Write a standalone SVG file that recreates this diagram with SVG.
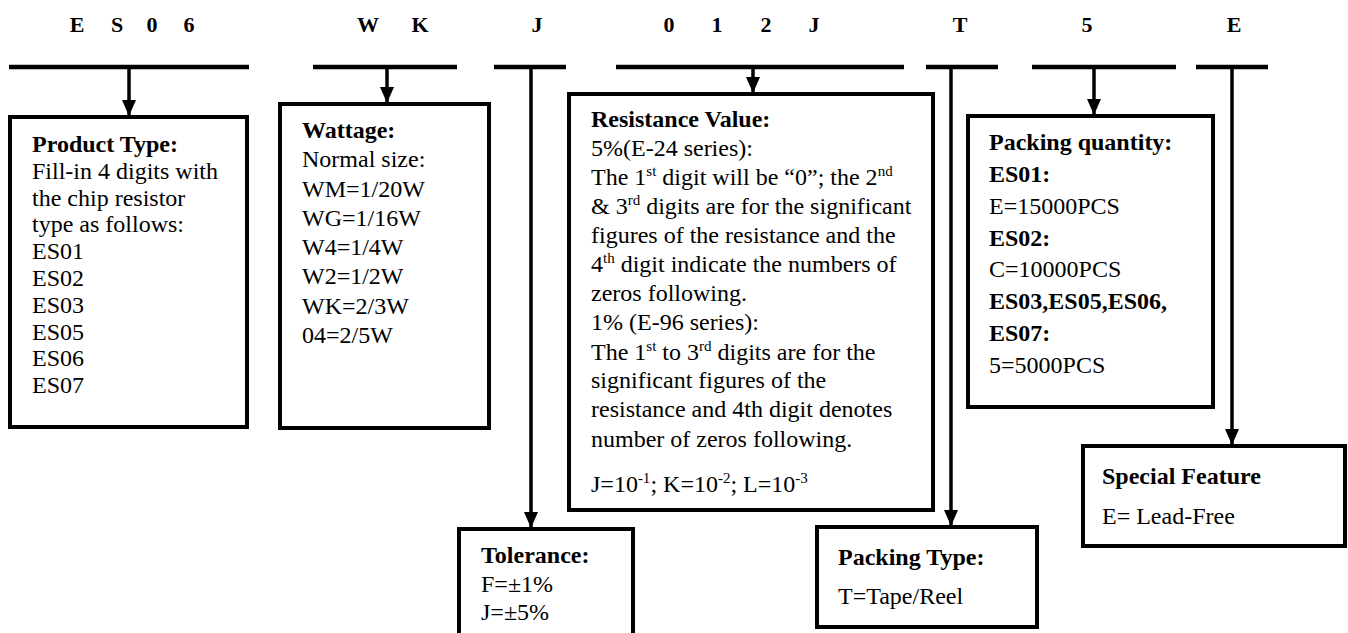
<svg xmlns="http://www.w3.org/2000/svg" width="1348" height="633" viewBox="0 0 1348 633">
<defs>
<marker id="ah" viewBox="0 0 16 14" markerWidth="16" markerHeight="14" refX="16" refY="7" orient="auto" markerUnits="userSpaceOnUse">
<path d="M0,0 L16,7 L0,14 z" fill="#000"/>
</marker>
<style>
.t{font-family:"Liberation Serif","Times New Roman",serif;font-size:24px;fill:#000}
.b{font-weight:bold}
.hd{font-family:"Liberation Serif","Times New Roman",serif;font-size:22px;font-weight:bold;fill:#000;text-anchor:middle}
.box{fill:#fff;stroke:#000;stroke-width:4}
.bar{stroke:#000;stroke-width:4.5;fill:none}
.con{stroke:#000;stroke-width:3.5;fill:none;marker-end:url(#ah)}
.sup{font-size:15px}
</style>
</defs>
<rect width="1348" height="633" fill="#fff"/>
<g id="code">
<text class="hd" x="77" y="32">E</text><text class="hd" x="117" y="32">S</text><text class="hd" x="152" y="32">0</text><text class="hd" x="189" y="32">6</text>
<text class="hd" x="368" y="32">W</text><text class="hd" x="420" y="32">K</text>
<text class="hd" x="537" y="32">J</text>
<text class="hd" x="669" y="32">0</text><text class="hd" x="717" y="32">1</text><text class="hd" x="766" y="32">2</text><text class="hd" x="814" y="32">J</text>
<text class="hd" x="960" y="32">T</text>
<text class="hd" x="1087" y="32">5</text>
<text class="hd" x="1234" y="32">E</text>
</g>
<g id="connectors">
<line class="bar" x1="9" y1="67" x2="249" y2="67"/>
<line class="bar" x1="313" y1="67" x2="457" y2="67"/>
<line class="bar" x1="494" y1="67" x2="566" y2="67"/>
<line class="bar" x1="616" y1="67" x2="904" y2="67"/>
<line class="bar" x1="926" y1="67" x2="998" y2="67"/>
<line class="bar" x1="1032" y1="67" x2="1176" y2="67"/>
<line class="bar" x1="1196" y1="67" x2="1268" y2="67"/>
<line class="con" x1="129" y1="67" x2="129" y2="116"/>
<line class="con" x1="387" y1="67" x2="387" y2="103"/>
<line class="con" x1="531" y1="67" x2="531" y2="528"/>
<line class="con" x1="753" y1="67" x2="753" y2="93"/>
<line class="con" x1="951" y1="67" x2="951" y2="526"/>
<line class="con" x1="1094" y1="67" x2="1094" y2="115"/>
<line class="con" x1="1232" y1="67" x2="1232" y2="445"/>
</g>
<g id="product-type">
<rect class="box" x="10" y="117" width="237" height="310"/>
<text class="t" x="32" y="152"><tspan class="b">Product Type:</tspan>
<tspan x="32" y="179">Fill-in 4 digits with</tspan>
<tspan x="32" y="206">the chip resistor</tspan>
<tspan x="32" y="232">type as follows:</tspan>
<tspan x="32" y="259">ES01</tspan>
<tspan x="32" y="286">ES02</tspan>
<tspan x="32" y="313">ES03</tspan>
<tspan x="32" y="340">ES05</tspan>
<tspan x="32" y="366">ES06</tspan>
<tspan x="32" y="393">ES07</tspan></text>
</g>
<g id="wattage">
<rect class="box" x="280" y="104" width="209" height="324"/>
<text class="t" x="302" y="138"><tspan class="b">Wattage:</tspan>
<tspan x="302" y="167">Normal size:</tspan>
<tspan x="302" y="197">WM=1/20W</tspan>
<tspan x="302" y="226">WG=1/16W</tspan>
<tspan x="302" y="255">W4=1/4W</tspan>
<tspan x="302" y="284">W2=1/2W</tspan>
<tspan x="302" y="314">WK=2/3W</tspan>
<tspan x="302" y="343">04=2/5W</tspan></text>
</g>
<g id="resistance-value">
<rect class="box" x="569" y="94" width="364" height="416"/>
<text class="t b" x="591" y="127">Resistance Value:</text>
<text class="t" x="591" y="156">5%(E-24 series):</text>
<text class="t" x="591" y="185">The 1<tspan class="sup" dy="-9">st</tspan><tspan dy="9"> digit will be “0”; the 2</tspan><tspan class="sup" dy="-9">nd</tspan></text>
<text class="t" x="591" y="214">&amp; 3<tspan class="sup" dy="-9">rd</tspan><tspan dy="9"> digits are for the significant</tspan></text>
<text class="t" x="591" y="243">figures of the resistance and the</text>
<text class="t" x="591" y="272">4<tspan class="sup" dy="-9">th</tspan><tspan dy="9"> digit indicate the numbers of</tspan></text>
<text class="t" x="591" y="301">zeros following.</text>
<text class="t" x="591" y="330">1% (E-96 series):</text>
<text class="t" x="591" y="360">The 1<tspan class="sup" dy="-9">st</tspan><tspan dy="9"> to 3</tspan><tspan class="sup" dy="-9">rd</tspan><tspan dy="9"> digits are for the</tspan></text>
<text class="t" x="591" y="388">significant figures of the</text>
<text class="t" x="591" y="417">resistance and 4th digit denotes</text>
<text class="t" x="591" y="447">number of zeros following.</text>
<text class="t" x="591" y="492">J=10<tspan class="sup" dy="-9">-1</tspan><tspan dy="9">; K=10</tspan><tspan class="sup" dy="-9">-2</tspan><tspan dy="9">; L=10</tspan><tspan class="sup" dy="-9">-3</tspan></text>
</g>
<g id="tolerance">
<rect class="box" x="459" y="529" width="174" height="110"/>
<text class="t" x="481" y="563"><tspan class="b">Tolerance:</tspan>
<tspan x="481" y="592">F=±1%</tspan>
<tspan x="481" y="620">J=±5%</tspan></text>
</g>
<g id="packing-type">
<rect class="box" x="817" y="527" width="220" height="100"/>
<text class="t" x="838" y="565"><tspan class="b">Packing Type:</tspan>
<tspan x="838" y="604">T=Tape/Reel</tspan></text>
</g>
<g id="packing-quantity">
<rect class="box" x="968" y="116" width="245" height="291"/>
<text class="t" x="989" y="150"><tspan class="b">Packing quantity:</tspan>
<tspan x="989" y="182" class="b">ES01:</tspan>
<tspan x="989" y="214">E=15000PCS</tspan>
<tspan x="989" y="246" class="b">ES02:</tspan>
<tspan x="989" y="277">C=10000PCS</tspan>
<tspan x="989" y="309" class="b">ES03,ES05,ES06,</tspan>
<tspan x="989" y="341" class="b">ES07:</tspan>
<tspan x="989" y="373">5=5000PCS</tspan></text>
</g>
<g id="special-feature">
<rect class="box" x="1083" y="446" width="262" height="100"/>
<text class="t" x="1102" y="484"><tspan class="b">Special Feature</tspan>
<tspan x="1102" y="524">E= Lead-Free</tspan></text>
</g>
</svg>
